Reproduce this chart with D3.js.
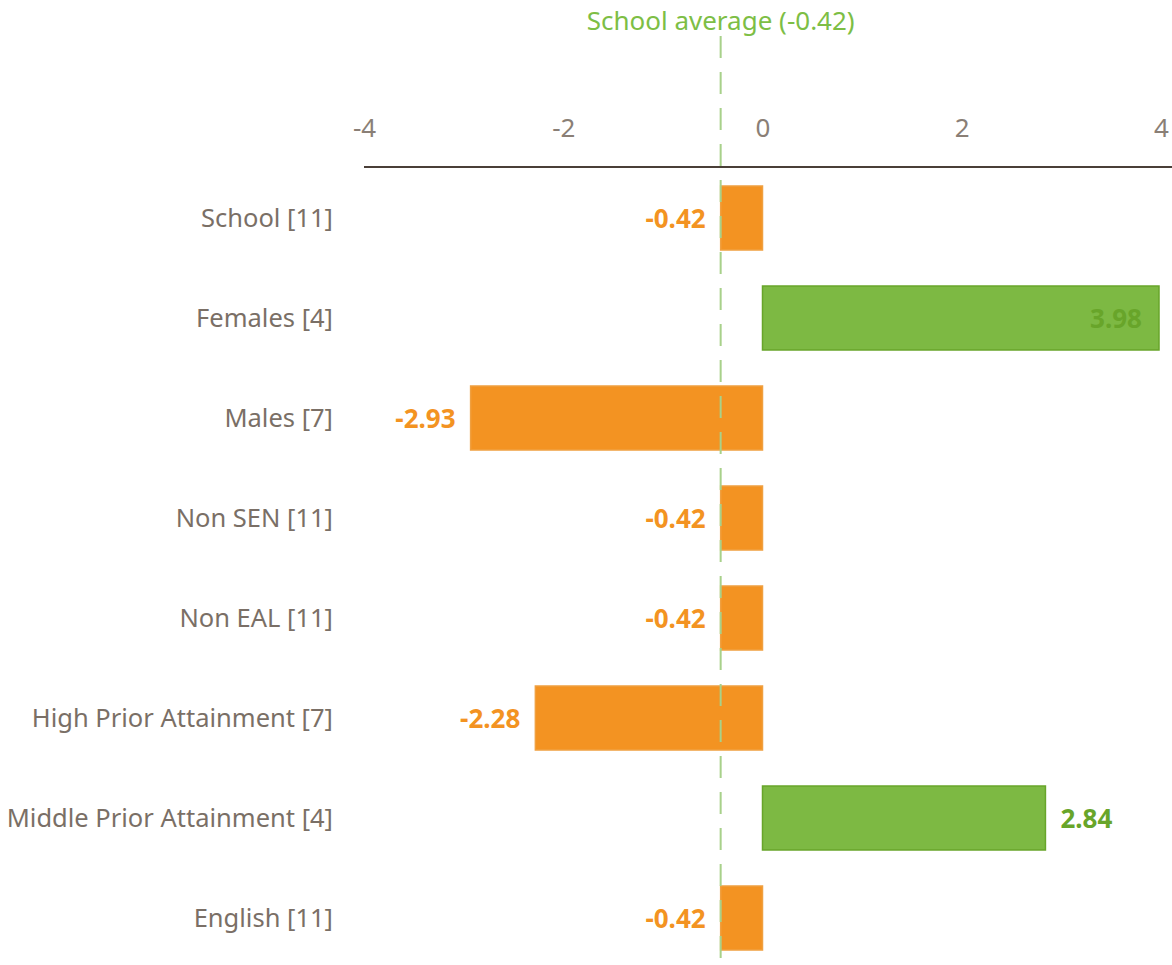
<!DOCTYPE html>
<html>
<head>
<meta charset="utf-8">
<script src="https://cdn.jsdelivr.net/npm/d3@7"></script>
<style>
body { margin: 0; background: #fff; }
svg { font-family: "Noto Sans", "Open Sans", sans-serif; }
</style>
</head>
<body>
<svg width="1172" height="965"></svg>
<script>
const categories = ["School [11]", "Females [4]", "Males [7]", "Non SEN [11]", "Non EAL [11]",
  "High Prior Attainment [7]", "Middle Prior Attainment [4]", "English [11]"]
const values = [-0.42, 3.98, -2.93, -0.42, -0.42, -2.28, 2.84, -0.42]
const schoolAverage = -0.42
const tickValues = [-4, -2, 0, 2, 4]

const width = 1172
const height = 965
const margin = { top: 168, left: 364, right: 11 }

const x = d3.scaleLinear().domain([-4, 4]).range([margin.left, width - margin.right])
const y = d3.scaleBand().domain(categories).range([margin.top, margin.top + 800])
  .paddingInner(0.36).paddingOuter(0.18)

const svg = d3.select("svg")

const orange = "#f39322", green = "#7db943", greenDark = "#68a52a"

// bars
svg.append("g").selectAll("rect")
  .data(values)
  .enter().append("rect")
  .attr("x", d => x(Math.min(0, d)))
  .attr("y", (d, i) => y(categories[i]))
  .attr("width", d => Math.abs(x(d) - x(0)))
  .attr("height", y.bandwidth())
  .attr("fill", d => d > 0 ? green : orange)
  .attr("stroke", d => d > 0 ? greenDark : "#f0a040")
  .attr("stroke-width", 1.5)

// value labels
svg.append("g").selectAll("text")
  .data(values)
  .enter().append("text")
  .attr("x", d => {
    if (d < 0) return x(d) - 15
    if (x(d) > width - 80) return x(d) - 17
    return x(d) + 15
  })
  .attr("y", (d, i) => y(categories[i]) + y.bandwidth() / 2 + 10)
  .attr("text-anchor", d => (d < 0 || x(d) > width - 80) ? "end" : "start")
  .attr("font-size", 26)
  .attr("font-weight", "bold")
  .attr("fill", d => d < 0 ? orange : greenDark)
  .text(d => d.toFixed(2))

// category labels
svg.append("g").selectAll("text")
  .data(categories)
  .enter().append("text")
  .attr("x", 333)
  .attr("y", d => y(d) + y.bandwidth() / 2 + 9)
  .attr("text-anchor", "end")
  .attr("font-size", 25.5)
  .attr("fill", "#7a6f66")
  .text(d => d)

// axis
const xAxis = d3.axisTop(x).tickValues(tickValues).tickSize(0).tickPadding(30)
  .tickFormat(d => String(d))
const ax = svg.append("g")
  .attr("transform", "translate(0," + (margin.top - 1) + ")")
  .call(xAxis)
ax.select(".domain").remove()
ax.append("line").attr("x1", x(-4)).attr("x2", width).attr("stroke", "#4a3f38").attr("stroke-width", 2)
ax.selectAll("text").attr("font-size", 26).attr("fill", "#8a7f76").attr("font-family", "Noto Sans, sans-serif")

// school average line
svg.append("line")
  .attr("x1", x(schoolAverage)).attr("x2", x(schoolAverage))
  .attr("y1", 36).attr("y2", height)
  .attr("stroke", "#a8d18a").attr("stroke-width", 2)
  .attr("stroke-dasharray", "22,14")
svg.append("text")
  .attr("x", x(schoolAverage))
  .attr("y", 30)
  .attr("text-anchor", "middle")
  .attr("font-size", 26)
  .attr("fill", "#7dbe45")
  .text("School average (" + schoolAverage.toFixed(2) + ")")
</script>
</body>
</html>
